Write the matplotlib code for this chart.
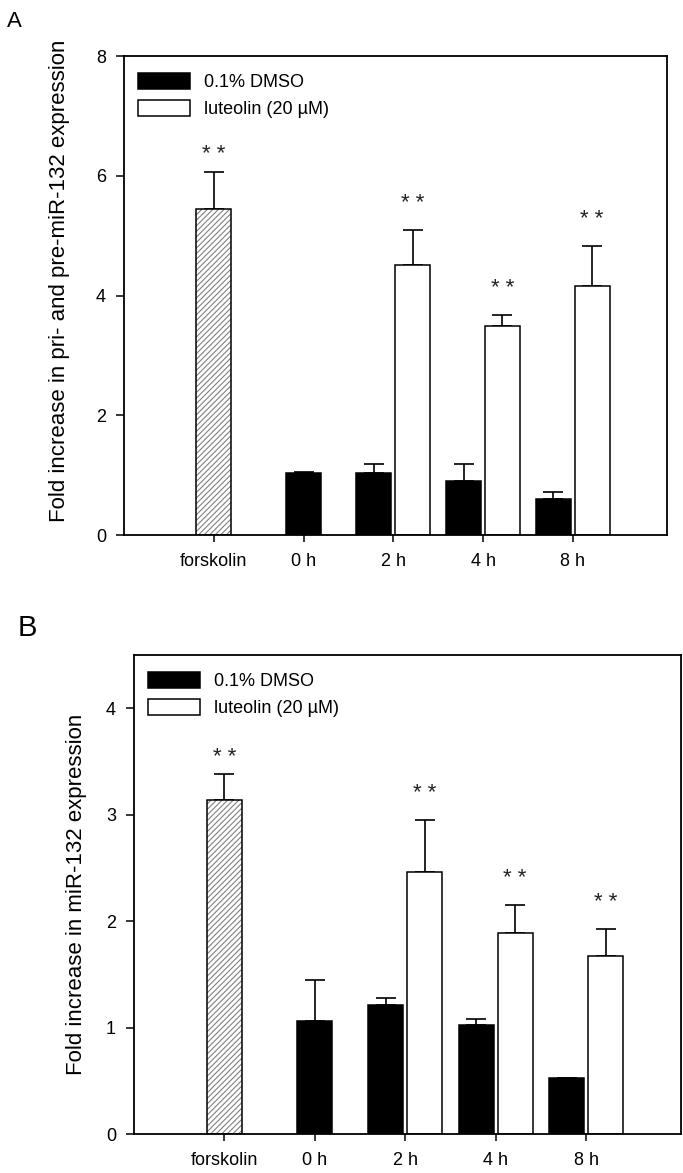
import numpy as np
import matplotlib
matplotlib.use("Agg")
from matplotlib import pyplot as plt

plt.rcParams['font.family'] = ['Liberation Sans', 'DejaVu Sans']
plt.rcParams['hatch.linewidth'] = 0.8

groups = ["forskolin", "0 h", "2 h", "4 h", "8 h"]
series = ["0.1% DMSO", "luteolin (20 \u00b5M)"]

# panel A: pri- and pre-miR-132
forsk_a = 5.44
forsk_err_a = 0.63
dmso_a = [1.03, 1.03, 0.91, 0.60]
dmso_err_a = [0.03, 0.16, 0.28, 0.11]
lut_a = [np.nan, 4.51, 3.49, 4.16]
lut_err_a = [np.nan, 0.58, 0.19, 0.67]

# panel B: mature miR-132
forsk_b = 3.14
forsk_err_b = 0.24
dmso_b = [1.06, 1.21, 1.02, 0.53]
dmso_err_b = [0.39, 0.07, 0.06, 0.0]
lut_b = [np.nan, 2.46, 1.89, 1.67]
lut_err_b = [np.nan, 0.49, 0.26, 0.26]

ylabels = ["Fold increase in pri- and pre-miR-132 expression",
           "Fold increase in miR-132 expression"]

w = 0.39
off = 0.215
fs = 13

fig = plt.figure(figsize=(6.83, 11.73), dpi=100)
axA = fig.add_axes([0.1816, 0.5439, 0.795, 0.4083])
axB = fig.add_axes([0.1962, 0.0332, 0.801, 0.4083])


def star(ax, x, y, dy):
    ax.annotate("* *", (x, y), xytext=(0, dy), textcoords='offset points',
                ha='center', va='center', fontsize=16, color='#222222')


def panel(ax, forsk, forsk_err, dmso, dmso_err, lut, lut_err, ylim, yticks, ylabel, lab_xy):
    x = np.arange(len(groups))
    # forskolin (hatched)
    ax.bar(x[0], forsk, w, color='white', edgecolor='#808080', hatch='//////', linewidth=0, zorder=2)
    ax.bar(x[0], forsk, w, color='none', edgecolor='black', linewidth=1.1, zorder=3)
    ax.errorbar(x[0], forsk, yerr=[[0], [forsk_err]], fmt='none', ecolor='black',
                elinewidth=1.2, capsize=7, capthick=1.2, zorder=1)
    star(ax, x[0], forsk + forsk_err, 12)

    xd = x[1:].astype(float) - off
    xd[0] = x[1]
    xl = x[1:] + off
    lut = np.array(lut)
    ok = ~np.isnan(lut)
    ax.bar(xd, dmso, w, color='black', edgecolor='black', linewidth=1.1, zorder=2, label=series[0])
    ax.bar(xl[ok], lut[ok], w, color='white', edgecolor='black', linewidth=1.1, zorder=2, label=series[1])
    ax.errorbar(xd, dmso, yerr=[np.zeros(len(dmso)), dmso_err], fmt='none', ecolor='black',
                elinewidth=1.2, capsize=7, capthick=1.2, zorder=1)
    le = np.array(lut_err)
    ax.errorbar(xl[ok], lut[ok], yerr=[np.zeros(ok.sum()), le[ok]], fmt='none', ecolor='black',
                elinewidth=1.2, capsize=7, capthick=1.2, zorder=1)
    for xi, v, e in zip(xl[ok], lut[ok], le[ok]):
        star(ax, xi, v + e, 19)

    ax.set_xlim(-1.0, 5.05)
    ax.set_ylim(*ylim)
    ax.set_xticks(x)
    ax.set_xticklabels(groups, fontsize=fs)
    ax.set_yticks(yticks)
    ax.set_yticklabels([str(t) for t in yticks], fontsize=fs)
    ax.tick_params(axis='x', direction='out', length=5, width=1.1, pad=8)
    ax.tick_params(axis='y', direction='out', length=6, width=1.1, pad=7)
    for s in ax.spines.values():
        s.set_linewidth(1.3)
    ax.set_ylabel(ylabel, fontsize=16)
    ax.yaxis.set_label_coords(*lab_xy)
    ax.legend(loc='upper left', bbox_to_anchor=(0.025, 0.965), frameon=False, fontsize=fs,
              handlelength=2.9, handleheight=1.0, handletextpad=0.8, labelspacing=0.5,
              borderpad=0, borderaxespad=0)


panel(axA, forsk_a, forsk_err_a, dmso_a, dmso_err_a, lut_a, lut_err_a,
      (0, 8), [0, 2, 4, 6, 8], ylabels[0], (-0.10, 0.53))
panel(axB, forsk_b, forsk_err_b, dmso_b, dmso_err_b, lut_b, lut_err_b,
      (0, 4.5), [0, 1, 2, 3, 4], ylabels[1], (-0.086, 0.5))

fig.text(7 / 683, 1 - 27 / 1173, "A", fontsize=16)
fig.text(18 / 683, 1 - 636 / 1173, "B", fontsize=21)

fig.savefig("out.png", dpi=100)
